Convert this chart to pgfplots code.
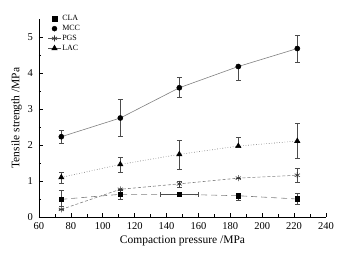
\documentclass[border=0pt]{standalone}
\usepackage{fontspec}
\setmainfont{Liberation Serif}
\usepackage{pgfplots}
\pgfplotsset{compat=1.18}
\begin{document}
\begin{tikzpicture}
\begin{axis}[
  at={(0,0)}, anchor=origin,
  scale only axis, width=287pt, height=198pt,
  xmin=60, xmax=240, ymin=0, ymax=5.5,
  axis x line*=bottom, axis y line*=left,
  axis line style={black, line width=0.6pt},
  xtick={60,80,...,240}, minor x tick num=1,
  ytick={0,1,2,3,4,5}, minor y tick num=1,
  tick align=inside,
  major tick length=4pt, minor tick length=2.5pt,
  tick style={black, line width=0.6pt},
  tick label style={font=\fontsize{10.5}{12}\selectfont},
  xticklabel style={yshift=-2pt},
  yticklabel style={xshift=-2.5pt},
  /pgf/number format/assume math mode=true,
  xlabel={Compaction pressure /MPa},
  ylabel={Tensile strength /MPa},
  label style={font=\fontsize{11.5}{13}\selectfont},
  xlabel style={yshift=1pt},
  ylabel style={yshift=-1pt},
  legend style={at={(rel axis cs:0.02,1.035)}, anchor=north west, draw=none, fill=none,
    font=\fontsize{8}{9}\selectfont, row sep=0.6pt,
    nodes={inner sep=1.2pt}},
  legend cell align=left,
  legend image code/.code={\draw[mark repeat=2, mark phase=2, #1] plot coordinates {(0cm,0cm) (0.22cm,0cm) (0.44cm,0cm)};},
  error bars/error bar style={solid, black!70, line width=0.6pt},
  error bars/error mark options={solid, rotate=90, mark size=2.5pt, black!70, line width=0.6pt},
]
% CLA
\addplot[gray, line width=0.6pt, dash pattern=on 6pt off 4pt, mark=square*, mark size=2.3pt,
  mark options={solid, fill=black, draw=black}, forget plot,
  error bars/.cd, y dir=both, y explicit, x dir=both, x explicit]
  coordinates {
  (74,0.49) += (0,0.24) -= (0,0.20)
  (111,0.63) += (0,0.10) -= (0,0.14)
  (148,0.63) += (12,0.00) -= (12,0.00)
  (185,0.59) += (0,0.00) -= (0,0.12)
  (222,0.50) += (0,0.16) -= (0,0.14)
  };
% MCC
\addplot[gray, line width=0.6pt, solid, mark=*, mark size=2.5pt,
  mark options={solid, fill=black, draw=black}, forget plot,
  error bars/.cd, y dir=both, y explicit]
  coordinates {
  (74,2.23) += (0,0.18) -= (0,0.19)
  (111,2.75) += (0,0.53) -= (0,0.52)
  (148,3.59) += (0,0.28) -= (0,0.27)
  (185,4.18) += (0,0.00) -= (0,0.37)
  (222,4.68) += (0,0.38) -= (0,0.38)
  };
% PGS
\addplot[gray, line width=0.6pt, dash pattern=on 3pt off 2pt, mark=asterisk, mark size=3pt,
  mark options={solid, draw=black!80}, forget plot,
  error bars/.cd, y dir=both, y explicit]
  coordinates {
  (74,0.21) += (0,0) -= (0,0)
  (111,0.77) += (0,0) -= (0,0)
  (148,0.92) += (0,0.08) -= (0,0.10)
  (185,1.08) += (0,0) -= (0,0)
  (222,1.16) += (0,0.20) -= (0,0.19)
  };
% LAC
\addplot[gray!80!black, line width=0.6pt, dotted, mark=triangle*, mark size=3pt,
  mark options={solid, fill=black, draw=black}, forget plot,
  error bars/.cd, y dir=both, y explicit]
  coordinates {
  (74,1.10) += (0,0.15) -= (0,0.17)
  (111,1.46) += (0,0.21) -= (0,0.23)
  (148,1.74) += (0,0.40) -= (0,0.41)
  (185,1.97) += (0,0.25) -= (0,0)
  (222,2.11) += (0,0.50) -= (0,0.49)
  };
\addlegendimage{only marks, mark=square*, mark size=2.3pt, fill=black, draw=black}
\addlegendentry{CLA}
\addlegendimage{only marks, mark=*, mark size=2.5pt, fill=black, draw=black}
\addlegendentry{MCC}
\addlegendimage{gray!70!black, line width=0.6pt, mark=asterisk, mark size=3pt, mark options={draw=black!80}}
\addlegendentry{PGS}
\addlegendimage{gray!70!black, line width=0.6pt, mark=triangle*, mark size=3pt, mark options={fill=black, draw=black}}
\addlegendentry{LAC}
\end{axis}
\path (-39pt,-39pt) rectangle (307pt,217pt);
\end{tikzpicture}
\end{document}
